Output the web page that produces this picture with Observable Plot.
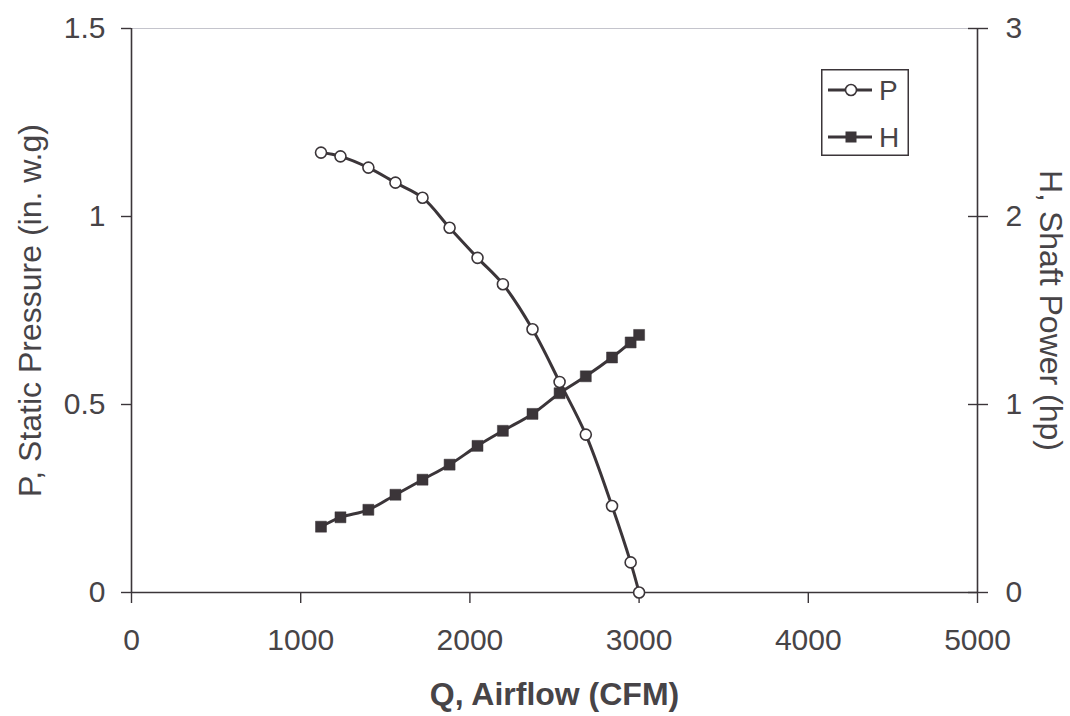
<!DOCTYPE html>
<html>
<head>
<meta charset="utf-8">
<script src="https://cdn.jsdelivr.net/npm/d3@7"></script>
<script src="https://cdn.jsdelivr.net/npm/@observablehq/plot@0.6"></script>
<style>
  html, body { margin: 0; padding: 0; background: #fff; }
  #chart { position: relative; width: 1070px; height: 716px; }
  #legend { position: absolute; left: 821px; top: 69px; }
</style>
</head>
<body>
<div id="chart"></div>
<script>
// Fan performance: static pressure and shaft power versus airflow
const airflow = [1120, 1235, 1400, 1560, 1720, 1880, 2045, 2195, 2370, 2530, 2685, 2840, 2950, 3000];
const staticPressure = [1.17, 1.16, 1.13, 1.09, 1.05, 0.97, 0.89, 0.82, 0.70, 0.56, 0.42, 0.23, 0.08, 0.00];
const shaftPower = [0.35, 0.40, 0.44, 0.52, 0.60, 0.68, 0.78, 0.86, 0.95, 1.06, 1.15, 1.25, 1.33, 1.37];

const xTicks = [0, 1000, 2000, 3000, 4000, 5000];
const pTicks = [0, 0.5, 1, 1.5];
const hTicks = [0, 1, 2, 3];

const xTitle = "Q, Airflow (CFM)";
const pTitle = "P, Static Pressure (in. w.g)";
const hTitle = "H, Shaft Power (hp)";
const seriesNames = ["P", "H"];

const pMax = 1.5, hMax = 3;
const hToP = pMax / hMax; // H shares the pressure scale, rescaled

const rows = airflow.map((q, i) => ({q, p: staticPressure[i], h: shaftPower[i]}));

const ink = "#3b3539";
const textInk = "#474447";
const font = "'Liberation Sans', Arial, sans-serif";
const plain = d => String(d);

const chart = Plot.plot({
  width: 1070,
  height: 716,
  marginLeft: 131,
  marginRight: 93,
  marginTop: 28,
  marginBottom: 124,
  style: {fontFamily: font, fontSize: "30px", color: textInk, background: "#fff"},
  x: {domain: [0, 5000]},
  y: {domain: [0, pMax]},
  marks: [
    // frame: dark left/right/bottom, faint top
    Plot.ruleY([pMax], {stroke: "#c4c4cc", strokeWidth: 1}),
    Plot.ruleY([0], {stroke: ink, strokeWidth: 1.6}),
    Plot.ruleX([0], {stroke: ink, strokeWidth: 1.6}),
    Plot.ruleX([5000], {stroke: ink, strokeWidth: 1.6}),

    Plot.axisX(xTicks, {tickSize: 11, tickPadding: 25, fontSize: 30, tickFormat: plain,
      stroke: ink, strokeWidth: 1.4, label: null}),
    Plot.axisY(pTicks, {anchor: "left", tickSize: 10, tickPadding: 16, fontSize: 30, tickFormat: plain,
      stroke: ink, strokeWidth: 1.4, label: null}),
    Plot.axisY(hTicks.map(h => h * hToP), {anchor: "right", tickSize: 10, tickPadding: 18, fontSize: 30,
      stroke: ink, strokeWidth: 1.4, tickFormat: d => String(Math.round(d / hToP)), label: null}),
    Plot.axisY(hTicks.map(h => h * hToP), {anchor: "right", tickSize: -10, tickFormat: () => "",
      stroke: ink, strokeWidth: 1.4, label: null}),

    // axis titles
    Plot.text([xTitle], {frameAnchor: "bottom", dy: 102, textAnchor: "middle", lineAnchor: "middle",
      fontSize: 32, fontWeight: "bold", fill: textInk}),
    Plot.text([pTitle], {frameAnchor: "left", dx: -101, rotate: -90, textAnchor: "middle", lineAnchor: "middle",
      fontSize: 32, fill: textInk}),
    Plot.text([hTitle], {frameAnchor: "right", dx: 73, rotate: 90, textAnchor: "middle", lineAnchor: "middle",
      fontSize: 32, fill: textInk}),

    // series
    Plot.line(rows, {x: "q", y: "p", stroke: ink, strokeWidth: 3, curve: "catmull-rom"}),
    Plot.line(rows, {x: "q", y: d => d.h * hToP, stroke: ink, strokeWidth: 3, curve: "catmull-rom"}),
    Plot.dot(rows, {x: "q", y: "p", r: 5.5, fill: "#fff", stroke: ink, strokeWidth: 1.6}),
    Plot.dot(rows, {x: "q", y: d => d.h * hToP, symbol: "square", r: 6.2, fill: ink, stroke: ink, strokeWidth: 0.5})
  ]
});

const container = document.getElementById("chart");
container.appendChild(chart);

// legend box
const lw = 88, lh = 87;
const legend = d3.create("svg")
  .attr("id", "legend")
  .attr("width", lw)
  .attr("height", lh)
  .style("font-family", font);
legend.append("rect")
  .attr("x", 0.75).attr("y", 0.75).attr("width", lw - 1.5).attr("height", lh - 1.5)
  .attr("fill", "#fff").attr("stroke", ink).attr("stroke-width", 1.5);
seriesNames.forEach((name, i) => {
  const cy = 21 + i * 47;
  const g = legend.append("g");
  g.append("line").attr("x1", 7).attr("x2", 51).attr("y1", cy).attr("y2", cy)
    .attr("stroke", ink).attr("stroke-width", 3.2);
  if (name === "P") {
    g.append("circle").attr("cx", 30).attr("cy", cy).attr("r", 5.5)
      .attr("fill", "#fff").attr("stroke", ink).attr("stroke-width", 1.6);
  } else {
    g.append("rect").attr("x", 24.5).attr("y", cy - 5.5).attr("width", 11).attr("height", 11)
      .attr("fill", ink);
  }
  g.append("text").attr("x", 58).attr("y", cy).attr("dy", "0.36em")
    .attr("font-size", 28).attr("fill", textInk).text(name);
});
container.appendChild(legend.node());
</script>
</body>
</html>
